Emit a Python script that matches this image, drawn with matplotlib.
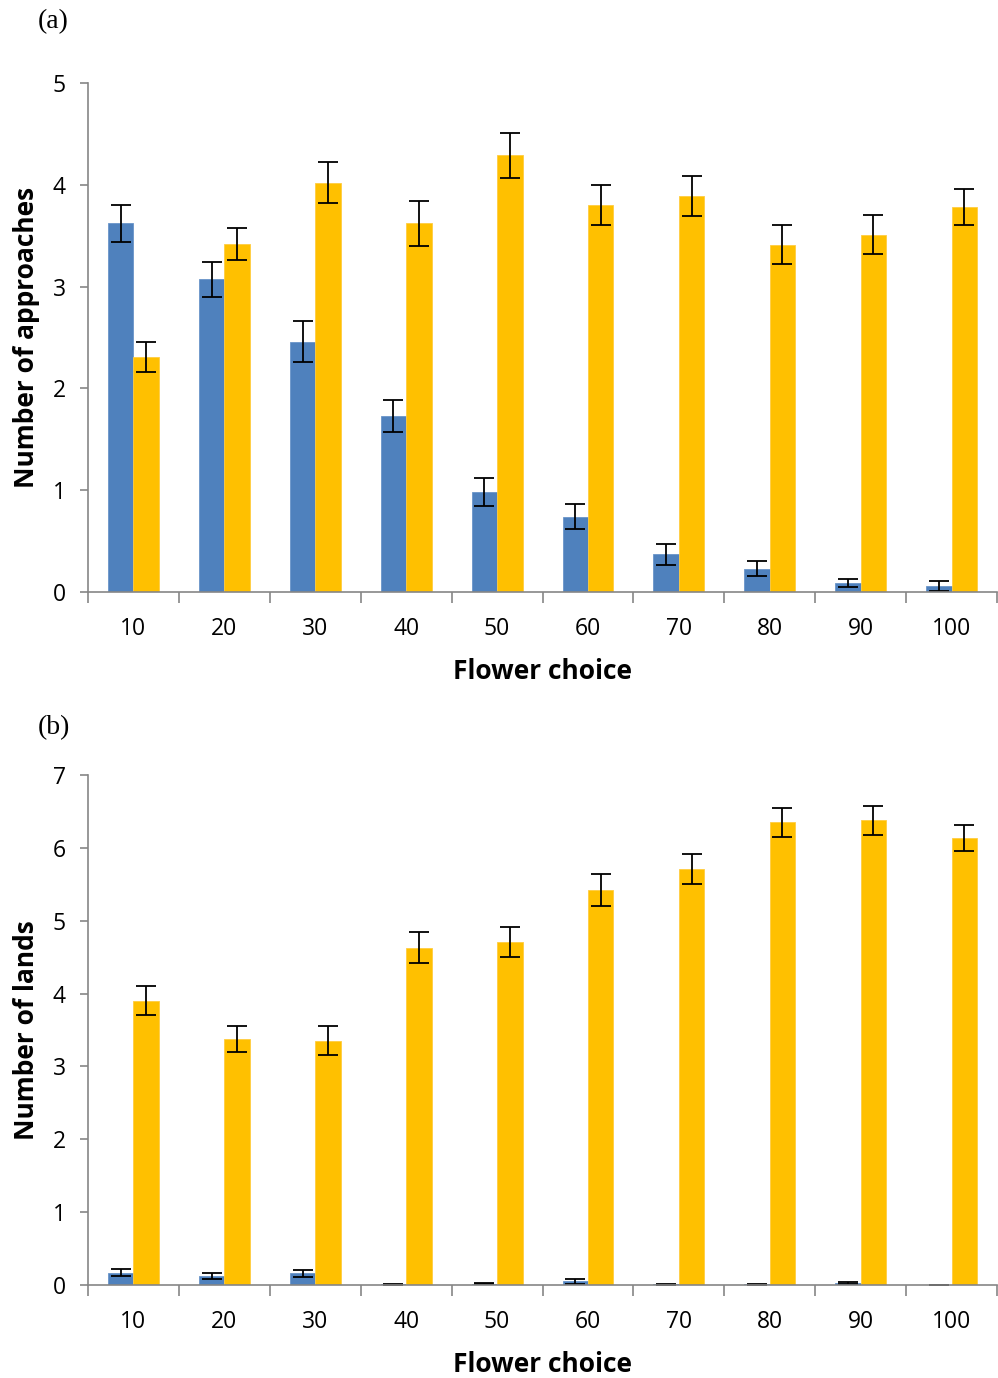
import matplotlib
matplotlib.use('Agg')
import matplotlib.pyplot as plt
import numpy as np

# Flower choice categories
categorias = ['10', '20', '30', '40', '50', '60', '70', '80', '90', '100']

# (a) Number of approaches
aprox_azul = [3.62, 3.07, 2.46, 1.73, 0.98, 0.74, 0.37, 0.23, 0.09, 0.06]
aprox_azul_err = [0.18, 0.17, 0.20, 0.16, 0.14, 0.12, 0.10, 0.07, 0.04, 0.05]
aprox_nar = [2.31, 3.42, 4.02, 3.62, 4.29, 3.80, 3.89, 3.41, 3.51, 3.78]
aprox_nar_err = [0.15, 0.16, 0.20, 0.22, 0.22, 0.20, 0.20, 0.19, 0.19, 0.18]

# (b) Number of lands
ater_azul = [0.17, 0.12, 0.16, 0.01, 0.02, 0.05, 0.01, 0.01, 0.03, 0.00]
ater_azul_err = [0.05, 0.04, 0.05, 0.005, 0.01, 0.03, 0.005, 0.005, 0.015, 0.0]
ater_nar = [3.90, 3.38, 3.35, 4.63, 4.71, 5.42, 5.71, 6.35, 6.38, 6.14]
ater_nar_err = [0.20, 0.18, 0.20, 0.21, 0.21, 0.22, 0.20, 0.20, 0.20, 0.18]

AZUL = '#4F81BD'
NARANJA = '#FFC000'
GRIS = '#868686'

plt.rcParams['font.family'] = ['Open Sans', 'DejaVu Sans']

fig = plt.figure(figsize=(9.98, 13.78), dpi=100)
ax_a = fig.add_axes([0.0882, 0.5704, 0.9108, 0.3694])
ax_b = fig.add_axes([0.0882, 0.0675, 0.9108, 0.3701])


def dibujar(ax, azul, azul_err, nar, nar_err, ymax, ylabel):
    x = np.arange(len(categorias))
    w = 0.28
    err_kw = dict(ecolor='black', elinewidth=1.3, capsize=7, capthick=1.3)
    ax.bar(x - w / 2, azul, w, color=AZUL, edgecolor='#6a95c9', linewidth=0.6,
           yerr=azul_err, error_kw=err_kw, zorder=2)
    ax.bar(x + w / 2, nar, w, color=NARANJA, edgecolor='#ffcc40', linewidth=0.6,
           yerr=nar_err, error_kw=err_kw, zorder=2)
    ax.set_xlim(-0.5, len(categorias) - 0.5)
    ax.set_ylim(0, ymax)
    ax.set_yticks(range(ymax + 1))
    ax.set_xticks(np.arange(-0.5, len(categorias) + 0.5, 1.0))
    ax.set_xticklabels([])
    ax.set_xticks(x, minor=True)
    ax.set_xticklabels(categorias, minor=True)
    ax.tick_params(axis='x', which='major', length=8, color=GRIS, width=1.2, direction='out')
    ax.tick_params(axis='x', which='minor', length=0, labelsize=16.5, pad=18)
    ax.tick_params(axis='y', length=6, color=GRIS, width=1.2, labelsize=16.5, pad=10)
    for s in ['top', 'right']:
        ax.spines[s].set_visible(False)
    for s in ['left', 'bottom']:
        ax.spines[s].set_color(GRIS)
        ax.spines[s].set_linewidth(1.2)
    ax.set_xlabel('Flower choice', fontsize=19, fontweight='bold', labelpad=12)
    ax.set_ylabel(ylabel, fontsize=19, fontweight='bold', labelpad=9)


dibujar(ax_a, aprox_azul, aprox_azul_err, aprox_nar, aprox_nar_err, 5, 'Number of approaches')
dibujar(ax_b, ater_azul, ater_azul_err, ater_nar, ater_nar_err, 7, 'Number of lands')

fig.text(0.038, 0.984, '(a)', fontsize=20, family='Liberation Serif', va='center')
fig.text(0.038, 0.472, '(b)', fontsize=20, family='Liberation Serif', va='center')

fig.savefig('out.png', dpi=100)
plt.close()
